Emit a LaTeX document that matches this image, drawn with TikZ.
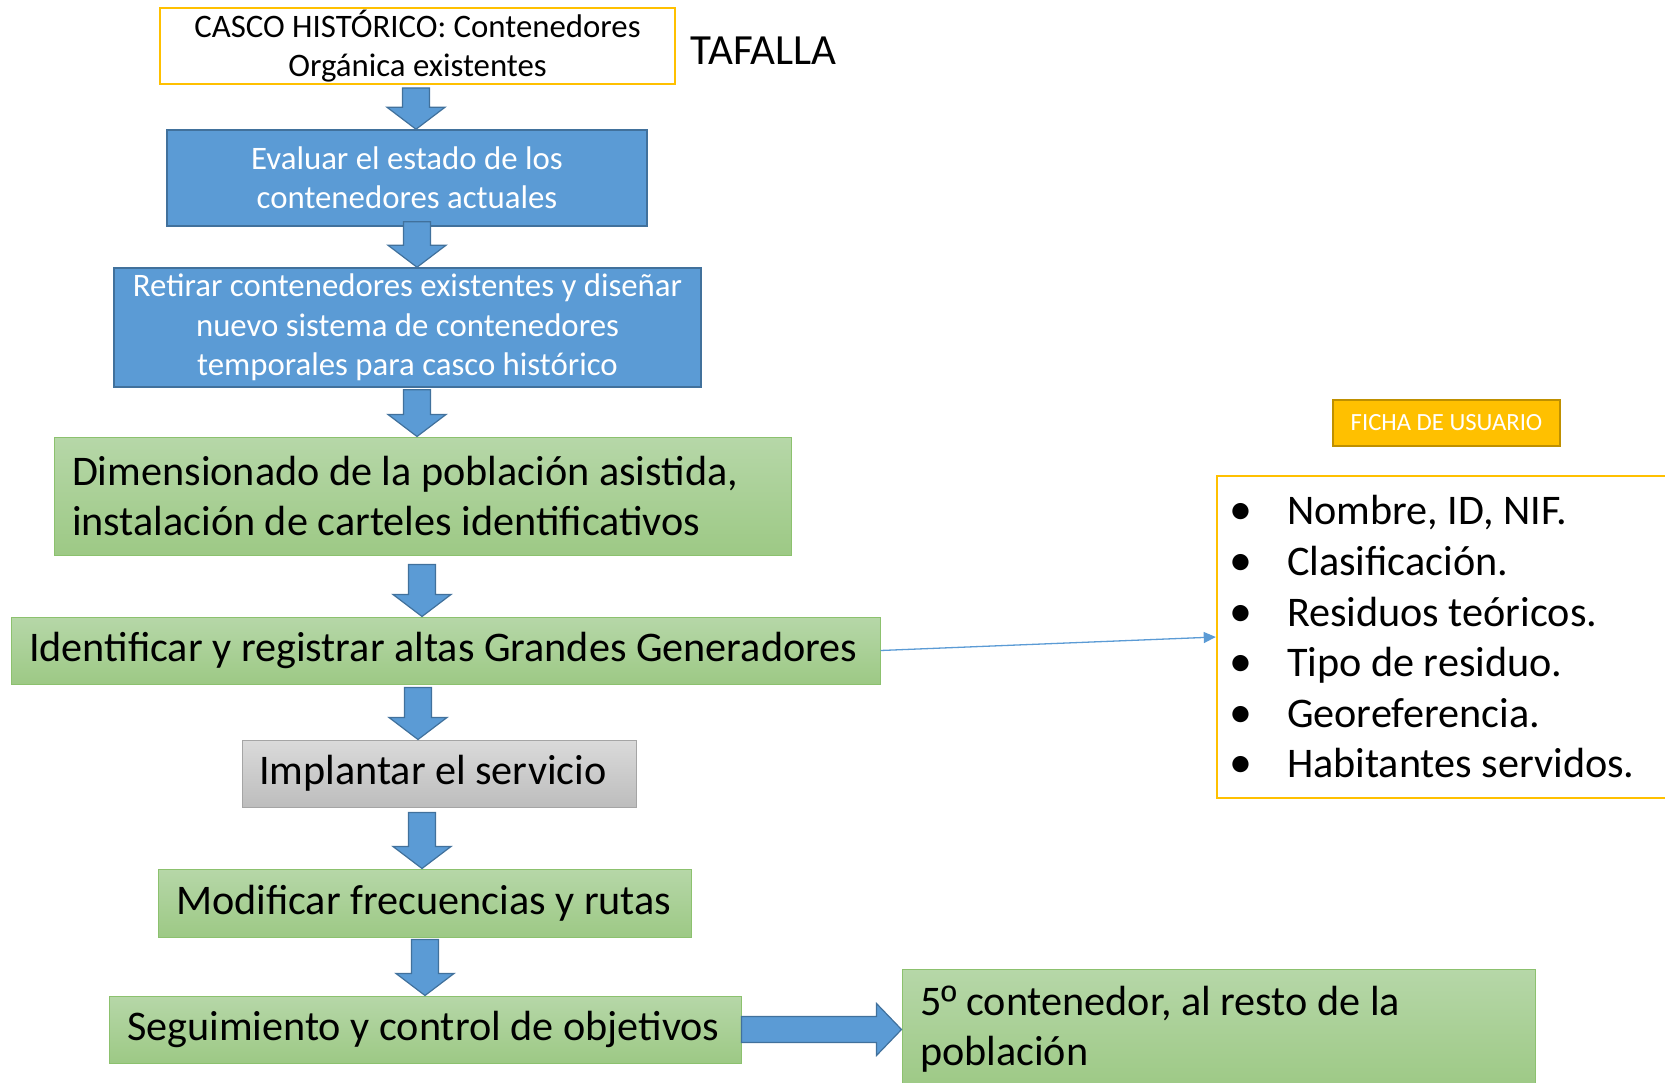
\documentclass[tikz,border=0pt]{standalone}
\usepackage{fontspec}
\setmainfont{Carlito}
\newfontfamily\ordfont{Liberation Sans}
\usetikzlibrary{calc,arrows.meta}
\definecolor{boxblue}{HTML}{5B9BD5}
\definecolor{blueborder}{HTML}{41719C}
\definecolor{greentop}{HTML}{B6D7A8}
\definecolor{greenbot}{HTML}{9DC985}
\definecolor{greenborder}{HTML}{8CC16E}
\definecolor{graytop}{HTML}{DADADA}
\definecolor{graybot}{HTML}{BDBDBD}
\definecolor{grayborder}{HTML}{A5A5A5}
\definecolor{gold}{HTML}{FFC000}
\definecolor{goldborder}{HTML}{BF9000}
\newcommand{\fsbig}{\fontsize{42.2}{50.6}\selectfont}
\newcommand{\fsmid}{\fontsize{32.8}{39.3}\selectfont}
\newcommand{\bul}{\makebox[53pt][l]{\hspace{-5pt}\fontsize{46}{50}\selectfont\raisebox{0pt}{•}}}
\newcommand{\varrow}[4]{%
  \path let \p1=(#1.south), \p2=(#2.north) in
    [draw=blueborder, fill=boxblue, line width=1.2pt, line join=miter]
    (#3-13.5,\y1-#4) -- (#3+13.5,\y1-#4) -- (#3+13.5,\y2+22) -- (#3+29,\y2+22)
    -- (#3,\y2) -- (#3-29,\y2+22) -- (#3-13.5,\y2+22) -- cycle;}
\begin{document}
\begin{tikzpicture}[x=1pt,y=-1pt,
  bluebox/.style={draw=blueborder, fill=boxblue, line width=1.5pt, text=white,
    align=center, inner sep=0pt, font=\fsmid},
  greenbox/.style={draw=greenborder, top color=greentop, bottom color=greenbot,
    line width=1pt, align=flush left, inner xsep=18pt, inner ysep=0pt, font=\fsbig},
  graybox/.style={draw=grayborder, top color=graytop, bottom color=graybot,
    line width=1pt, align=flush left, inner xsep=17pt, inner ysep=0pt, font=\fsbig},
  thinarrow/.style={draw=boxblue, line width=1.3pt, -{Triangle[length=12pt,width=11pt]}},
]
\useasboundingbox (0,0) rectangle (1665,1083);
\clip (0,0) rectangle (1665,1083);

% top yellow-bordered box
\node[draw=gold, line width=2pt, fill=white, minimum width=515pt, minimum height=75.5pt,
  align=center, inner sep=0pt, font=\fsmid] (casco) at (417.5,46.25)
  {CASCO HISTÓRICO: Contenedores\\Orgánica existentes};
\node[font=\fontsize{43}{50}\selectfont, inner sep=0pt] (tafalla) at (763.5,51) {TAFALLA};

\node[bluebox, minimum width=480pt, minimum height=96pt] (eval) at (407,178)
  {Evaluar el estado de los\\contenedores actuales};
\node[bluebox, minimum width=587pt, minimum height=119pt] (retirar) at (407.5,327.5)
  {Retirar contenedores existentes y diseñar\\nuevo sistema de contenedores\\temporales para casco histórico};

\node[greenbox, text width=701pt, minimum height=118pt] (dimen) at (422.5,496)
  {\mbox{Dimensionado de la población asistida,}\\\mbox{instalación de carteles identificativos}};
\node[greenbox, text width=833pt, minimum height=67pt] (ident) at (445.5,650.5)
  {\mbox{Identificar y registrar altas Grandes Generadores}};
\node[graybox, text width=360pt, minimum height=67pt] (impl) at (439,773.5)
  {\mbox{Implantar el servicio}};
\node[greenbox, text width=497pt, minimum height=68pt] (modif) at (424.5,903)
  {\mbox{Modificar frecuencias y rutas}};
\node[greenbox, text width=596pt, minimum height=67pt] (segui) at (425,1029.5)
  {\mbox{Seguimiento y control de objetivos}};
\node[greenbox, text width=597pt, minimum height=120pt] (quinto) at (1218.5,1029)
  {\mbox{5{\ordfont º} contenedor, al resto de la}\\\mbox{población}};

% user card
\node[draw=goldborder, fill=gold, line width=1.5pt, text=white, minimum width=227pt,
  minimum height=46pt, inner sep=0pt, font=\fontsize{24.7}{29}\selectfont] (ficha) at (1446.5,423)
  {FICHA DE USUARIO};
\node[draw=gold, line width=2.5pt, fill=white, minimum width=483pt, minimum height=322pt,
  text width=449pt, align=flush left, inner xsep=17pt, inner ysep=0pt, font=\fsbig] (datos) at (1458.5,637)
  {\bul Nombre, ID, NIF.\\
   \bul Clasificación.\\
   \bul Residuos teóricos.\\
   \bul Tipo de residuo.\\
   \bul Georeferencia.\\
   \bul Habitantes servidos.};

% block arrows
\varrow{casco}{eval}{416}{3}
\varrow{eval}{retirar}{417}{-5}
\varrow{retirar}{dimen}{417}{2}
\varrow{dimen}{ident}{422}{9}
\varrow{ident}{impl}{418}{3}
\varrow{impl}{modif}{422}{5}
\varrow{modif}{segui}{425}{2}
\path let \p1=(segui.east), \p2=(quinto.west) in
  [draw=blueborder, fill=boxblue, line width=1.2pt, line join=miter]
  (\x1,\y1-13) -- (\x2-25,\y1-13) -- (\x2-25,\y1-26) -- (\x2,\y1)
  -- (\x2-25,\y1+26) -- (\x2-25,\y1+13) -- (\x1,\y1+13) -- cycle;

\draw[thinarrow] (ident.east) -- (datos.west);
\end{tikzpicture}
\end{document}
